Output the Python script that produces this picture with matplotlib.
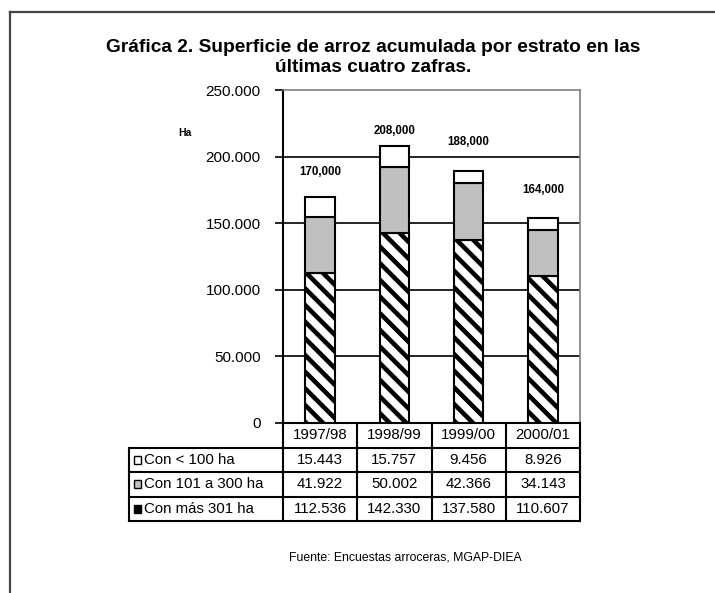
"""Gráfica 2: superficie de arroz acumulada por estrato."""
import matplotlib
matplotlib.use('Agg')
import matplotlib.pyplot as plt
from matplotlib.lines import Line2D
from matplotlib.patches import Rectangle
import matplotlib.transforms as mtrans

plt.rcParams['font.family'] = ['Liberation Sans', 'DejaVu Sans']
plt.rcParams['hatch.linewidth'] = 3.3

# Data (ha)
zafras = ['1997/98', '1998/99', '1999/00', '2000/01']
estratos = ['Con < 100 ha', 'Con 101 a 300 ha', 'Con más 301 ha']
menos_100 = [15443, 15757, 9456, 8926]
de_101_300 = [41922, 50002, 42366, 34143]
mas_301 = [112536, 142330, 137580, 110607]
# totals as written above the bars
totales = ['170,000', '208,000', '188,000', '164,000']
yticks = [0, 50000, 100000, 150000, 200000, 250000]


def fmt(v):
    return f'{v:,}'.replace(',', '.')


W, H = 715, 593
fig = plt.figure(figsize=(W / 100, H / 100), dpi=100)

# outer frame (top and left edges visible)
fig.add_artist(Line2D([10 / W, 1], [1 - 12 / H] * 2, color='#444444', lw=1.6))
fig.add_artist(Line2D([10 / W] * 2, [0, 1 - 12 / H], color='#444444', lw=1.6))

fig.text(373 / W, 1 - 47 / H, 'Gráfica 2. Superficie de arroz acumulada por estrato en las',
         ha='center', va='center', fontsize=13.8, fontweight='bold')
fig.text(373 / W, 1 - 68 / H, 'últimas cuatro zafras.',
         ha='center', va='center', fontsize=13.8, fontweight='bold')

left, right, top, bottom = 283, 580, 90, 423
ax = fig.add_axes([left / W, 1 - bottom / H, (right - left) / W, (bottom - top) / H])

x = range(len(zafras))
bw = 0.4
ax.bar(x, mas_301, bw, color='white', edgecolor='black', hatch='\\\\', lw=1.5, zorder=3)
b2 = [a for a in mas_301]
ax.bar(x, de_101_300, bw, bottom=b2, color='#c0c0c0', edgecolor='black', lw=1.5, zorder=3)
b3 = [a + b for a, b in zip(mas_301, de_101_300)]
ax.bar(x, menos_100, bw, bottom=b3, color='white', edgecolor='black', lw=1.5, zorder=3)

ax.set_xlim(-0.5, len(zafras) - 0.5)
ax.set_ylim(0, 250000)
ax.set_yticks(yticks)
ax.set_yticklabels([fmt(v) for v in yticks], fontsize=11)
ax.set_xticks([])
ax.tick_params(axis='y', direction='out', length=6, width=1.2, pad=10)
for v in yticks[1:-1]:
    ax.axhline(v, color='black', lw=1.2, zorder=1)
ax.spines['left'].set_linewidth(1.5)
ax.spines['bottom'].set_linewidth(1.5)
for s in ('top', 'right'):
    ax.spines[s].set_color('#808080')
    ax.spines[s].set_linewidth(1.2)

# totals above bars
lbl_y = [188400, 219200, 211000, 175000]
for i, t in enumerate(totales):
    ax.text(i, lbl_y[i], t, ha='center', va='center', fontsize=8.3, fontweight='bold')

ax.text(-1.82, 217700, 'Ha', ha='center', va='center', fontsize=7.5, fontweight='bold')

# data table under the axis
tr = mtrans.blended_transform_factory(ax.transData, ax.transAxes)
rh = 24.5 / (bottom - top)
xl = -0.5 - 153 / 74
xr = len(zafras) - 0.5
n = len(estratos)
kw = dict(color='black', lw=1.5, transform=tr, clip_on=False)
# header
for i in range(len(zafras) + 1):
    ax.add_line(Line2D([i - 0.5] * 2, [0, -(n + 1) * rh], **kw))
for i, z in enumerate(zafras):
    ax.text(i, -rh / 2, z, ha='center', va='center', fontsize=10.8, transform=tr)
for r in range(1, n + 2):
    ax.add_line(Line2D([xl, xr], [-r * rh] * 2, **kw))
ax.add_line(Line2D([xl] * 2, [-rh, -(n + 1) * rh], **kw))

rows = [menos_100, de_101_300, mas_301]
sw_style = [dict(facecolor='white'), dict(facecolor='#c0c0c0'),
            dict(facecolor='black', hatch='\\\\')]
for r, (name, vals) in enumerate(zip(estratos, rows)):
    yc = -(r + 1.5) * rh
    ax.add_patch(Rectangle((xl + 0.06, yc - 0.012), 0.1, 0.024, edgecolor='black',
                           lw=1, transform=tr, clip_on=False, **sw_style[r]))
    ax.text(xl + 0.2, yc, name, ha='left', va='center', fontsize=10.8, transform=tr)
    for i, v in enumerate(vals):
        ax.text(i, yc, fmt(v), ha='center', va='center', fontsize=10.8, transform=tr)

fig.text(405 / W, 1 - 558 / H, 'Fuente: Encuestas arroceras, MGAP-DIEA',
         ha='center', va='center', fontsize=8.8)

plt.savefig('out.png', dpi=100)
